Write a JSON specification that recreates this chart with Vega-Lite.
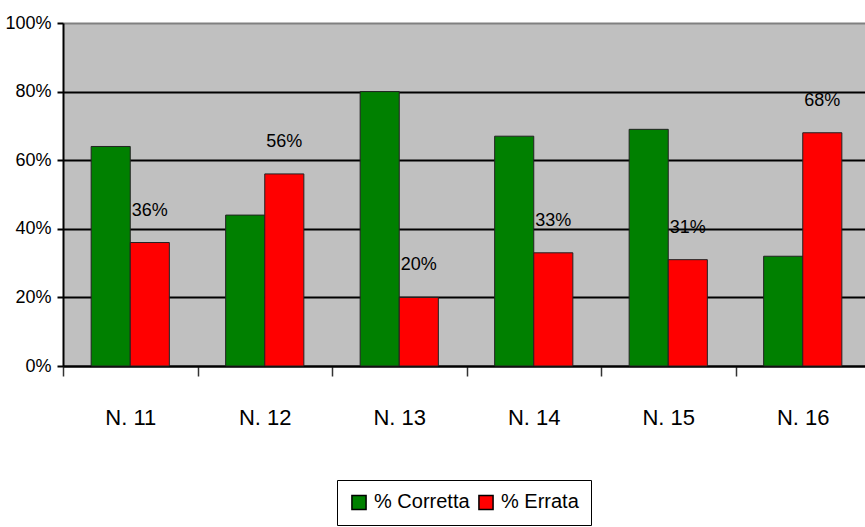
{
  "$schema": "https://vega.github.io/schema/vega-lite/v6.json",
  "autosize": {"type": "none"},
  "width": 807,
  "height": 343,
  "padding": {"left": 63, "top": 23, "right": 0, "bottom": 161},
  "background": "white",
  "data": {
    "values": [
      {"q": "N. 11", "serie": "% Corretta", "v": 0.64},
      {"q": "N. 11", "serie": "% Errata", "v": 0.36},
      {"q": "N. 12", "serie": "% Corretta", "v": 0.44},
      {"q": "N. 12", "serie": "% Errata", "v": 0.56},
      {"q": "N. 13", "serie": "% Corretta", "v": 0.80},
      {"q": "N. 13", "serie": "% Errata", "v": 0.20},
      {"q": "N. 14", "serie": "% Corretta", "v": 0.67},
      {"q": "N. 14", "serie": "% Errata", "v": 0.33},
      {"q": "N. 15", "serie": "% Corretta", "v": 0.69},
      {"q": "N. 15", "serie": "% Errata", "v": 0.31},
      {"q": "N. 16", "serie": "% Corretta", "v": 0.32},
      {"q": "N. 16", "serie": "% Errata", "v": 0.68}
    ]
  },
  "encoding": {
    "x": {
      "field": "q",
      "type": "nominal",
      "scale": {"paddingInner": 0, "paddingOuter": 0},
      "axis": {
        "title": null,
        "labelAngle": 0,
        "labelFontSize": 22,
        "labelPadding": 31,
        "labelColor": "black",
        "tickBand": "extent",
        "tickSize": 10,
        "tickColor": "#333333",
        "tickWidth": 1.5,
        "domainColor": "black",
        "domainWidth": 2
      }
    },
    "xOffset": {
      "field": "serie",
      "type": "nominal",
      "scale": {"paddingInner": 0, "paddingOuter": 0.72}
    },
    "y": {
      "field": "v",
      "type": "quantitative",
      "scale": {"domain": [0, 1], "nice": false},
      "axis": {
        "title": null,
        "values": [0, 0.2, 0.4, 0.6, 0.8, 1],
        "format": ".0%",
        "labelFontSize": 18,
        "labelColor": "black",
        "labelPadding": 6,
        "tickSize": 6,
        "tickColor": "black",
        "tickWidth": 2,
        "domainColor": "black",
        "domainWidth": 2,
        "grid": true,
        "gridColor": {"condition": {"test": "datum.value >= 1", "value": "#808080"}, "value": "black"},
        "gridWidth": 2
      }
    }
  },
  "layer": [
    {
      "mark": {"type": "bar", "stroke": "#222222", "strokeWidth": 1},
      "encoding": {
        "color": {
          "field": "serie",
          "type": "nominal",
          "scale": {"domain": ["% Corretta", "% Errata"], "range": ["#008000", "#ff0000"]},
          "legend": {
            "title": null,
            "orient": "none",
            "legendX": 274,
            "legendY": 457,
            "direction": "horizontal",
            "symbolType": "square",
            "symbolSize": 200,
            "symbolStrokeColor": "black",
            "symbolStrokeWidth": 1.5,
            "labelFontSize": 20,
            "labelColor": "black",
            "columnPadding": 5,
            "labelOffset": 5,
            "strokeColor": "black",
            "padding": 12
          }
        }
      }
    },
    {
      "transform": [{"filter": "datum.serie === '% Errata'"}],
      "mark": {"type": "text", "dy": -32, "fontSize": 18, "color": "black", "baseline": "middle"},
      "encoding": {
        "text": {"field": "v", "type": "quantitative", "format": ".0%"}
      }
    }
  ],
  "config": {
    "font": "Liberation Sans, Arial, sans-serif",
    "view": {"fill": "#c0c0c0", "stroke": null}
  }
}
